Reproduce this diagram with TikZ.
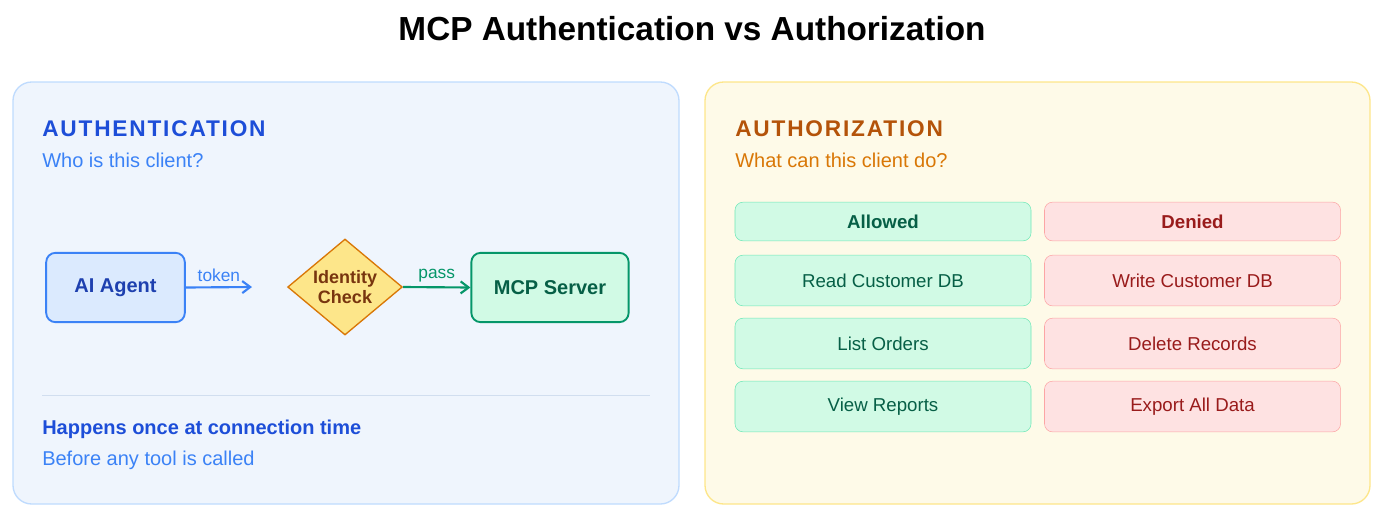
\documentclass[tikz,border=0pt]{standalone}
\usepackage{fontspec}
\setmainfont{Liberation Sans}
\usetikzlibrary{shapes.geometric,arrows.meta}
\definecolor{pbfill}{HTML}{EFF5FD}\definecolor{pbline}{HTML}{BFDBFE}
\definecolor{pyfill}{HTML}{FEFAE8}\definecolor{pyline}{HTML}{FDE68A}
\definecolor{bluedk}{HTML}{1D4ED8}\definecolor{bluemd}{HTML}{3B82F6}
\definecolor{bluelt}{HTML}{DBEAFE}\definecolor{bluetx}{HTML}{1E40AF}
\definecolor{ambdk}{HTML}{B45309}\definecolor{ambmd}{HTML}{D97706}
\definecolor{ambtx}{HTML}{78350F}\definecolor{ambfill}{HTML}{FDE68A}
\definecolor{grfill}{HTML}{D1FAE5}\definecolor{grline}{HTML}{6EE7B7}
\definecolor{grtx}{HTML}{065F46}\definecolor{grdk}{HTML}{059669}
\definecolor{rdfill}{HTML}{FEE2E2}\definecolor{rdline}{HTML}{FCA5A5}
\definecolor{rdtx}{HTML}{991B1B}
\tikzset{
 panel/.style={rounded corners=14pt,line width=1pt},
 okbox/.style={draw=grline,fill=grfill,text=grtx,rounded corners=6pt,minimum width=222pt,font=\fontsize{14}{16}\selectfont},
 nobox/.style={draw=rdline,fill=rdfill,text=rdtx,rounded corners=6pt,minimum width=222pt,font=\fontsize{14}{16}\selectfont},
 flowbox/.style={rounded corners=7pt,line width=1.4pt,font=\bfseries\fontsize{15}{18}\selectfont},
 lbl/.style={font=\fontsize{13}{15}\selectfont},
 txt/.style={anchor=west,inner sep=0pt},
 arr/.style={-{Straight Barb[length=6pt,width=9pt]},line width=1.6pt},
}
\begin{document}
\begin{tikzpicture}[x=0.75pt,y=-0.75pt]
\useasboundingbox (0,0) rectangle (1384,522);
\node[font=\bfseries\fontsize{25}{30}\selectfont] (title) at (692,29) {MCP Authentication vs Authorization};
% left panel
\draw[panel,draw=pbline,fill=pbfill] (13,82) rectangle (679,504);
\node[txt,text=bluedk,font=\bfseries\fontsize{17}{20}\selectfont\addfontfeatures{LetterSpace=8}] (h1) at (42,129) {AUTHENTICATION};
\node[txt,text=bluemd,font=\fontsize{15}{18}\selectfont] (s1) at (42,160) {Who is this client?};
\node[flowbox,draw=bluemd,fill=bluelt,text=bluetx,minimum width=104pt,minimum height=52pt] (agent) at (115.5,287.5) {AI Agent};
\node[diamond,draw=ambmd,fill=ambfill,line width=1pt,text=ambtx,aspect=1.2,inner sep=0pt,minimum width=86pt,minimum height=72pt,align=center,font=\bfseries\fontsize{13.5}{15}\selectfont] (idc) at (345,287) {Identity\\Check};
\node[flowbox,draw=grdk,fill=grfill,text=grtx,minimum width=118pt,minimum height=52pt] (mcp) at (550,287.5) {MCP Server};
\coordinate (tokend) at (252,287);
\draw[arr,bluemd] (agent.east) -- node[above,lbl,text=bluemd,pos=0.5] {token} (tokend);
\draw[arr,grdk] (idc.east) -- node[above,lbl,text=grdk] {pass} (mcp.west);
\draw[pbline!80!gray!60,line width=0.6pt] (42,395) coordinate (la) -- (650,395) coordinate (lb);
\node[txt,text=bluedk,font=\bfseries\fontsize{15}{18}\selectfont] (f1) at (42,429) {Happens once at connection time};
\node[txt,text=bluemd,font=\fontsize{15}{18}\selectfont] (f2) at (42,460) {Before any tool is called};
% right panel
\draw[panel,draw=pyline,fill=pyfill] (705,82) rectangle (1370,504);
\node[txt,text=ambdk,font=\bfseries\fontsize{17}{20}\selectfont\addfontfeatures{LetterSpace=8}] (h2) at (735,129) {AUTHORIZATION};
\node[txt,text=ambmd,font=\fontsize{15}{18}\selectfont] (s2) at (735,160) {What can this client do?};
\node[okbox,minimum height=29pt,font=\bfseries\fontsize{14}{16}\selectfont] (al) at (883,221.5) {Allowed};
\node[nobox,minimum height=29pt,font=\bfseries\fontsize{14}{16}\selectfont] (de) at (1192.5,221.5) {Denied};
\node[okbox,minimum height=38pt] (a1) at (883,280.5) {Read Customer DB};
\node[okbox,minimum height=38pt] (a2) at (883,343.5) {List Orders};
\node[okbox,minimum height=38pt] (a3) at (883,406.5) {View Reports};
\node[nobox,minimum height=38pt] (d1) at (1192.5,280.5) {Write Customer DB};
\node[nobox,minimum height=38pt] (d2) at (1192.5,343.5) {Delete Records};
\node[nobox,minimum height=38pt] (d3) at (1192.5,406.5) {Export All Data};
\end{tikzpicture}
\end{document}
